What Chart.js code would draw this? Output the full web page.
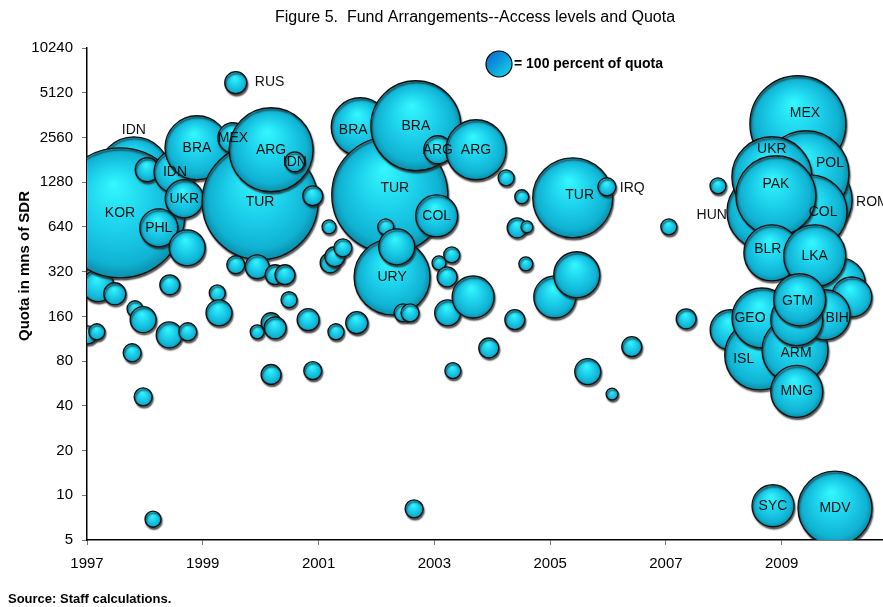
<!DOCTYPE html>
<html>
<head>
<meta charset="utf-8">
<script src="https://cdn.jsdelivr.net/npm/chart.js@4.4.1/dist/chart.umd.min.js"></script>
<style>
html, body { margin: 0; padding: 0; background: #fff; }
#wrap { width: 883px; height: 607px; }
</style>
</head>
<body>
<div id="wrap"><canvas id="c" width="883" height="607"></canvas></div>
<script>
// Fund arrangements: date of approval, quota (SDR mn) and access (% of quota)
const countries = [
  '', '', '', '', 'IDN', 'KOR', '', '', '', '', '', '', 'IDN', 'PHL', '', 'UKR', 'BRA', '', '', '',
  'TUR', 'MEX', 'RUS', '', '', 'ARG', 'IDN', '', '', '', '', '', '', '', '', '', '', '', '', '',
  '', '', '', '', '', 'BRA', 'TUR', 'BRA', 'ARG', 'ARG', 'COL', '', 'URY', '', '', '', '', '', '', '',
  '', '', '', '', '', '', '', '', '', '', '', 'TUR', '', '', 'IRQ', '', '', '', '', '',
  'MEX', 'ROM', 'POL', 'HUN', 'UKR', 'COL', 'PAK', '', '', 'BLR', 'LKA', '', 'ISL', 'GEO', 'ARM', 'BIH', '', 'GTM', 'MNG', 'SYC',
  'MDV'
];
const years = [
  1997.02, 1997.17, 1997.19, 1997.48, 1997.81, 1997.57, 1997.83, 1997.97, 1997.78, 1997.97,
  1998.14, 1998.04, 1998.52, 1998.24, 1998.73, 1998.68, 1998.90, 1998.42, 1998.43, 1998.74,
  1999.99, 1999.52, 1999.57, 1999.25, 1999.28, 2000.18, 2000.59, 1999.57, 1999.94, 1999.94,
  2000.18, 2000.25, 2000.18, 2000.25, 2000.42, 2000.49, 2000.90, 2000.82, 2000.90, 2001.18,
  2001.20, 2001.28, 2001.42, 2001.30, 2001.66, 2001.72, 2002.23, 2002.68, 2003.06, 2003.72,
  2003.04, 2002.16, 2002.27, 2002.35, 2002.46, 2002.58, 2002.65, 2003.08, 2003.30, 2003.22,
  2003.23, 2003.32, 2003.67, 2003.94, 2004.24, 2004.39, 2004.51, 2004.43, 2004.60, 2004.58,
  2005.08, 2005.39, 2005.46, 2005.65, 2005.98, 2006.07, 2006.41, 2007.05, 2007.35, 2007.90,
  2009.28, 2009.56, 2009.42, 2008.71, 2008.83, 2009.49, 2008.90, 2010.01, 2010.21, 2008.83,
  2009.57, 2008.11, 2008.62, 2008.66, 2009.23, 2009.75, 2009.26, 2009.31, 2009.26, 2008.85,
  2009.92
];
const quotaSDR = [
  120, 126, 257, 227, 1480, 796, 180, 152, 91, 46,
  6.9, 1552, 1504, 631, 463, 990, 2183, 120, 261, 126,
  945, 2548, 5980, 230, 169, 2116, 1756, 356, 345, 126,
  145, 134, 65, 305, 305, 207, 1037, 152, 69, 641,
  367, 403, 463, 126, 145, 3022, 1053, 3070, 2116, 2116,
  760, 641, 295, 470, 169, 169, 8.1, 367, 415, 295,
  169, 69, 216, 98, 1370, 152, 1021, 631, 641, 361,
  216, 1005, 305, 68, 1192, 48, 100, 641, 154, 1210,
  3165, 974, 1459, 809, 1392, 809, 1037, 269, 216, 428,
  409, 130, 88, 156, 95, 164, 152, 207, 50, 8.5,
  8.2
];
const accessPct = [
  48, 38, 151, 72, 767, 2500, 38, 100, 48, 48,
  38, 85, 261, 214, 192, 214, 606, 100, 59, 48,
  1990, 133, 72, 38, 100, 1044, 59, 48, 85, 29,
  59, 72, 59, 59, 59, 38, 59, 72, 48, 29,
  59, 59, 48, 38, 72, 498, 1990, 1198, 116, 533,
  261, 38, 854, 192, 48, 48, 48, 29, 38, 59,
  100, 38, 261, 59, 38, 59, 29, 59, 21, 29,
  261, 947, 313, 100, 48, 21, 59, 38, 59, 38,
  1363, 855, 1094, 854, 947, 810, 947, 370, 237, 464,
  569, 237, 725, 533, 644, 370, 400, 400, 400, 261,
  810
];
const yTicks = [5, 10, 20, 40, 80, 160, 320, 640, 1280, 2560, 5120, 10240];
const xTicks = [1997, 1999, 2001, 2003, 2005, 2007, 2009];

const FONT = '"Liberation Sans", Arial, sans-serif';
const R100 = 13; // bubble radius for 100 percent of quota

const points = years.map((x, i) => ({
  x: x, y: quotaSDR[i], r: R100 * Math.sqrt(accessPct[i] / 100)
}));

// label placement tweaks: [dx, dy, align]
const nudge = {
  4: [0, -43], 22: [19, -1, 'left'], 45: [-7, 3], 46: [5, -7], 71: [7, -3],
  74: [13, 1, 'left'], 80: [7, -11], 81: [42, 2, 'left'], 82: [24, -11],
  83: [-38, 3, 'right'], 84: [0, -28], 85: [13, 0], 86: [0, -12], 89: [-4, -4],
  92: [-16, 4], 93: [-12, 0], 94: [1, 3], 95: [12, 3], 97: [-2, 1]
};

function bubbleFill(c) {
  const chart = c.chart;
  if (!chart.chartArea || c.type !== 'data') return '#19c6e4';
  const d = c.raw;
  const cx = chart.scales.x.getPixelForValue(d.x);
  const cy = chart.scales.y.getPixelForValue(d.y);
  const r = d.r;
  const g = chart.ctx.createRadialGradient(cx - 0.1 * r, cy - 0.45 * r, 0, cx, cy, r * 1.02);
  g.addColorStop(0, '#34f8ff');
  g.addColorStop(0.5, '#1ccfea');
  g.addColorStop(0.85, '#10b2d2');
  g.addColorStop(1, '#0a8aa6');
  return g;
}

const bubbleShadow = {
  id: 'bubbleShadow',
  beforeDatasetDraw(chart) {
    const ctx = chart.ctx;
    ctx.save();
    ctx.shadowColor = 'rgba(40,40,40,0.75)';
    ctx.shadowOffsetX = 1;
    ctx.shadowOffsetY = 2;
    ctx.shadowBlur = 1.5;
  },
  afterDatasetDraw(chart) {
    chart.ctx.restore();
  }
};

const decorations = {
  id: 'decorations',
  afterDatasetsDraw(chart) {
    const ctx = chart.ctx;
    const meta = chart.getDatasetMeta(0);
    ctx.save();
    ctx.font = '14px ' + FONT;
    ctx.fillStyle = '#111';
    ctx.textBaseline = 'middle';
    countries.forEach((name, i) => {
      if (!name) return;
      const el = meta.data[i];
      const n = nudge[i] || [0, 0, 'center'];
      ctx.textAlign = n[2] || 'center';
      ctx.fillText(name, el.x + n[0], el.y + n[1]);
    });
    ctx.restore();
  },
  afterDraw(chart) {
    const ctx = chart.ctx;
    ctx.save();
    ctx.fillStyle = '#000';
    ctx.textBaseline = 'middle';
    // title
    ctx.font = '16px ' + FONT;
    ctx.textAlign = 'center';
    ctx.fillText('Figure 5.  Fund Arrangements--Access levels and Quota', 475, 18);
    // y axis title
    ctx.save();
    ctx.translate(25, 266);
    ctx.rotate(-Math.PI / 2);
    ctx.font = 'bold 15px ' + FONT;
    ctx.fillText('Quota in mns of SDR', 0, 0);
    ctx.restore();
    // source
    ctx.font = 'bold 13px ' + FONT;
    ctx.textAlign = 'left';
    ctx.fillText('Source: Staff calculations.', 8, 599);
    // legend bubble
    const lx = 499, ly = 64, lr = 13;
    const g = ctx.createLinearGradient(lx - lr, ly - lr, lx + lr, ly + lr);
    g.addColorStop(0, '#0a5fd0');
    g.addColorStop(1, '#10e0ea');
    ctx.beginPath();
    ctx.arc(lx, ly, lr, 0, Math.PI * 2);
    ctx.fillStyle = g;
    ctx.fill();
    ctx.lineWidth = 1.2;
    ctx.strokeStyle = '#000';
    ctx.stroke();
    ctx.fillStyle = '#000';
    ctx.font = 'bold 14px ' + FONT;
    ctx.fillText('= 100 percent of quota', 514, 64);
    ctx.restore();
  }
};

new Chart(document.getElementById('c'), {
  type: 'bubble',
  data: {
    datasets: [{
      data: points,
      backgroundColor: bubbleFill,
      borderColor: '#111',
      borderWidth: 1.3,
      hoverBorderWidth: 1.3
    }]
  },
  options: {
    responsive: false,
    animation: false,
    devicePixelRatio: 1,
    layout: { autoPadding: false, padding: { top: 48, right: 0, left: 0, bottom: 0 } },
    plugins: { legend: { display: false }, tooltip: { enabled: false }, title: { display: false } },
    scales: {
      x: {
        type: 'linear',
        min: 1997,
        max: 2010.75,
        afterBuildTicks: s => { s.ticks = xTicks.map(v => ({ value: v })); },
        afterFit: s => { s.height = 67; },
        ticks: {
          callback: v => String(v),
          color: '#000',
          font: { family: FONT, size: 15 },
          padding: 10,
          maxRotation: 0
        },
        grid: { display: true, drawOnChartArea: false, drawTicks: true, tickLength: 5, tickColor: '#777' },
        border: { display: true, color: '#000', width: 1.5 }
      },
      y: {
        type: 'logarithmic',
        min: 5,
        max: 10240,
        afterBuildTicks: s => { s.ticks = yTicks.map(v => ({ value: v })); },
        afterFit: s => { s.width = 87; },
        ticks: {
          callback: v => String(v),
          color: '#000',
          font: { family: FONT, size: 15 },
          padding: 9
        },
        grid: { display: true, drawOnChartArea: false, drawTicks: true, tickLength: 5, tickColor: '#777' },
        border: { display: true, color: '#000', width: 1.5 }
      }
    }
  },
  plugins: [bubbleShadow, decorations]
});
</script>
</body>
</html>
